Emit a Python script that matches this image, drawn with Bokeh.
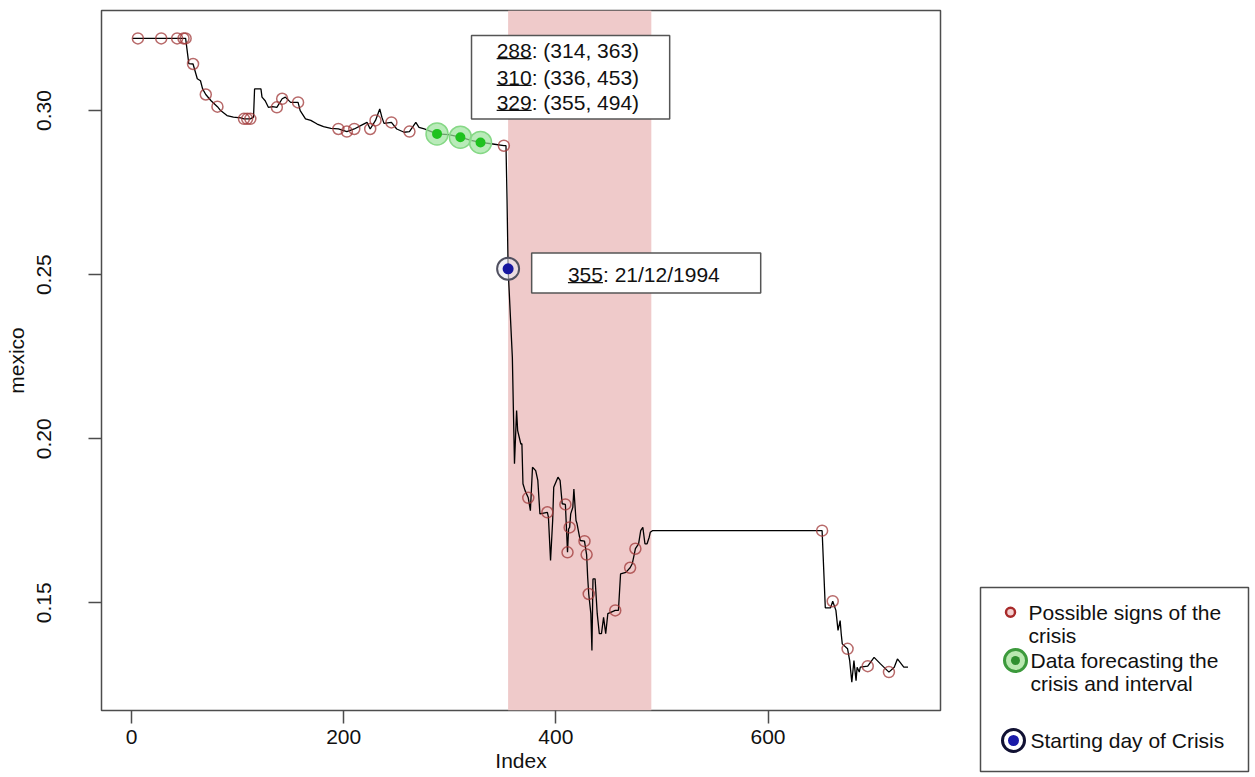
from bokeh.plotting import figure
from bokeh.models import Range1d, FixedTicker, NumeralTickFormatter, BoxAnnotation
from bokeh.layouts import row
from bokeh.core.properties import value
from bokeh.embed import file_html
from bokeh.resources import INLINE

FONT = "Liberation Sans"

# daily series (index, value)
index = [1, 51, 54, 58, 62, 65, 67, 70, 75, 81, 84, 90, 96, 103, 106, 109, 112, 115,
         116, 122, 123, 126, 129, 133, 137, 142, 145, 150, 157, 159, 164, 169, 175,
         181, 188, 195, 203, 210, 216, 222, 225, 230, 234, 236, 238, 245, 250, 257,
         262, 268, 271, 276, 288, 299, 310, 320, 329, 339, 351, 353, 354, 355, 359,
         360, 361, 363, 364, 367, 368, 369, 371, 374, 376, 378, 381, 383, 385, 392,
         393, 395, 397, 398, 402, 404, 406, 409, 411, 412, 413, 414, 416, 417, 419,
         420, 423, 427, 429, 430, 431, 433, 434, 435, 437, 439, 441, 443, 445, 447,
         449, 456, 459, 461, 466, 470, 472, 474, 475, 478, 480, 482, 484, 486, 488,
         489, 491, 651, 654, 659, 661, 664, 666, 668, 669, 670, 675, 677, 679, 681,
         683, 684, 686, 687, 694, 700, 706, 714, 719, 722, 728, 732]
mexico = [0.3220, 0.3220, 0.3143, 0.3142, 0.3097, 0.3091, 0.3066, 0.3049, 0.3030,
          0.3012, 0.3000, 0.2985, 0.2980, 0.2978, 0.2975, 0.2975, 0.2975, 0.2980,
          0.3066, 0.3066, 0.3041, 0.3030, 0.3010, 0.3012, 0.3010, 0.3036, 0.3041,
          0.3025, 0.3025, 0.3000, 0.2975, 0.2970, 0.2959, 0.2951, 0.2946, 0.2944,
          0.2936, 0.2944, 0.2954, 0.2964, 0.2944, 0.2970, 0.3005, 0.2980, 0.2961,
          0.2964, 0.2944, 0.2934, 0.2936, 0.2964, 0.2949, 0.2944, 0.2929, 0.2927,
          0.2919, 0.2909, 0.2903, 0.2899, 0.2893, 0.2893, 0.2726, 0.2518, 0.2248,
          0.2086, 0.1924, 0.2086, 0.2025, 0.1984, 0.1985, 0.1863, 0.1842, 0.1820,
          0.1781, 0.1913, 0.1903, 0.1873, 0.1771, 0.1776, 0.1761, 0.1629, 0.1751,
          0.1852, 0.1883, 0.1873, 0.1802, 0.1800, 0.1654, 0.1725, 0.1730, 0.1771,
          0.1791, 0.1847, 0.1751, 0.1741, 0.1690, 0.1688, 0.1647, 0.1578, 0.1527,
          0.1467, 0.1355, 0.1573, 0.1573, 0.1467, 0.1406, 0.1406, 0.1456, 0.1406,
          0.1467, 0.1477, 0.1477, 0.1588, 0.1593, 0.1607, 0.1619, 0.1649, 0.1665,
          0.1680, 0.1720, 0.1730, 0.1680, 0.1680, 0.1700, 0.1715, 0.1720, 0.1720,
          0.1485, 0.1485, 0.1505, 0.1477, 0.1416, 0.1446, 0.1406, 0.1375, 0.1360,
          0.1324, 0.1258, 0.1324, 0.1263, 0.1304, 0.1289, 0.1304, 0.1307, 0.1334,
          0.1314, 0.1289, 0.1304, 0.1329, 0.1304, 0.1304]

# possible signs of the crisis
sign_index = [6, 28, 43, 49, 51, 58, 70, 81, 106, 109, 112, 137, 142, 157, 195, 203,
              210, 225, 230, 245, 262, 351, 374, 392, 409, 411, 413, 427, 429, 431,
              456, 470, 475, 651, 661, 675, 694, 714]
sign_value = [0.3220, 0.3220, 0.3220, 0.3220, 0.3220, 0.3142, 0.3049, 0.3012, 0.2975,
              0.2975, 0.2975, 0.3010, 0.3036, 0.3025, 0.2944, 0.2936, 0.2944, 0.2944,
              0.2970, 0.2964, 0.2936, 0.2893, 0.1820, 0.1776, 0.1800, 0.1654, 0.1730,
              0.1688, 0.1647, 0.1527, 0.1477, 0.1607, 0.1665, 0.1720, 0.1505, 0.1360,
              0.1307, 0.1289]

# data forecasting the crisis and the interval each one gives
forecast_index = [288, 310, 329]
forecast_value = [0.2929, 0.2919, 0.2903]
interval_start = [314, 336, 355]
interval_end = [363, 453, 494]

# starting day of the crisis
crisis_index = [355]
crisis_value = [0.2518]
crisis_date = "21/12/1994"

band_start, band_end = 355, 490

x_ticks = [0, 200, 400, 600]
y_ticks = [0.15, 0.20, 0.25, 0.30]

legend_labels = ["Possible signs of the", "crisis", "Data forecasting the",
                 "crisis and interval", "Starting day of Crisis"]

p = figure(width=968, height=777, x_range=Range1d(-28.3, 762.6),
           y_range=Range1d(0.1172, 0.3305), output_backend="svg",
           toolbar_location=None, min_border_left=101, min_border_right=28,
           min_border_top=10, min_border_bottom=67)
p.frame_align = False
p.grid.visible = False
p.outline_line_color = "#4d4d4d"
p.outline_line_width = 1.5

p.add_layout(BoxAnnotation(left=band_start, right=band_end, fill_color="#efcaca",
                           fill_alpha=1.0, line_color=None, level="underlay"))

p.line(index, mexico, color="black", line_width=1.3)

p.scatter(sign_index, sign_value, marker="circle", size=11, fill_color=None,
          line_color="#a03838", line_width=1.5, line_alpha=0.75)

p.scatter(forecast_index, forecast_value, size=22, fill_color="#9be39b",
          fill_alpha=0.7, line_color="#86d886", line_width=1.5)
p.scatter(forecast_index, forecast_value, size=10, fill_color="#1fc21f", line_color=None)

p.scatter(crisis_index, crisis_value, size=22, fill_color="#e6e6f0", fill_alpha=0.6,
          line_color="#505060", line_width=2)
p.scatter(crisis_index, crisis_value, size=11, fill_color="#1616a0", line_color=None)

# forecast box
p.quad(left=320.5, right=507.3, top=0.32285, bottom=0.29747, fill_color="white",
       line_color="#555555", line_width=1.5)
fc_text = [f"{i}: ({a}, {b})" for i, a, b in zip(forecast_index, interval_start, interval_end)]
fc_y = [0.31828, 0.31015, 0.30253]
p.text(x=[344.2] * 3, y=fc_y, text=fc_text, text_font=value(FONT),
       text_font_size="21px", text_baseline="middle", text_align="left", text_color="#111111")
p.segment(x0=[344.2] * 3, x1=[377.2] * 3, y0=[y - 0.00244 for y in fc_y],
          y1=[y - 0.00244 for y in fc_y], line_color="#111111", line_width=1.3)

# crisis start box
p.quad(left=377.2, right=593.1, top=0.25664, bottom=0.24445, fill_color="white",
       line_color="#555555", line_width=1.5)
p.text(x=[411.4], y=[0.25003], text=[f"{crisis_index[0]}: {crisis_date}"],
       text_font=value(FONT), text_font_size="21px", text_baseline="middle",
       text_align="left", text_color="#111111")
p.segment(x0=[411.4], x1=[444.4], y0=[0.25003 - 0.00244], y1=[0.25003 - 0.00244],
          line_color="#111111", line_width=1.3)

p.xaxis.ticker = FixedTicker(ticks=x_ticks)
p.yaxis.ticker = FixedTicker(ticks=y_ticks)
p.yaxis.formatter = NumeralTickFormatter(format="0.00")
p.yaxis.major_label_orientation = "vertical"
p.xaxis.axis_label = "Index"
p.yaxis.axis_label = "mexico"
for ax in (p.xaxis, p.yaxis):
    ax.axis_line_color = None
    ax.major_tick_line_color = "#4d4d4d"
    ax.major_tick_line_width = 1.5
    ax.major_tick_out = 13
    ax.major_tick_in = 0
    ax.minor_tick_line_color = None
    ax.major_label_text_font = FONT
    ax.major_label_text_font_size = "21px"
    ax.major_label_text_color = "#111111"
    ax.axis_label_text_font = FONT
    ax.axis_label_text_font_size = "21px"
    ax.axis_label_text_font_style = "normal"
    ax.axis_label_text_color = "#111111"
p.xaxis.major_label_standoff = 6
p.xaxis.axis_label_standoff = 2
p.yaxis.major_label_standoff = 37
p.yaxis.axis_label_standoff = 7

# legend drawn in its own panel, coordinates in window pixels
leg = figure(width=287, height=777, x_range=Range1d(968, 1255), y_range=Range1d(777, 0),
             output_backend="svg", toolbar_location=None, x_axis_location=None,
             y_axis_location=None, min_border=0, outline_line_color=None)
leg.frame_align = False
leg.grid.visible = False
leg.quad(left=980, right=1248, top=587, bottom=771, fill_color="white",
         line_color="#4d4d4d", line_width=1.5)
leg.scatter([1010], [611.7], size=9, fill_color="#f4d0d0", line_color="#a82a2a", line_width=2.5)
leg.scatter([1015], [660], size=22, fill_color="#b9e8b0", line_color="#3c9a3c", line_width=3)
leg.scatter([1015], [660], size=9, fill_color="#2f8f2f", line_color=None)
leg.scatter([1013], [740], size=22, fill_color="white", line_color="#111133", line_width=3)
leg.scatter([1013], [740], size=11, fill_color="#1a1aa8", line_color=None)
leg.text(x=[1028, 1028, 1030, 1030, 1030], y=[611.7, 635, 660, 683.3, 740], text=legend_labels,
         text_font=value(FONT), text_font_size="21px", text_baseline="middle",
         text_align="left", text_color="#111111")

layout = row(p, leg)
open("out.html", "w").write(file_html(layout, INLINE))
